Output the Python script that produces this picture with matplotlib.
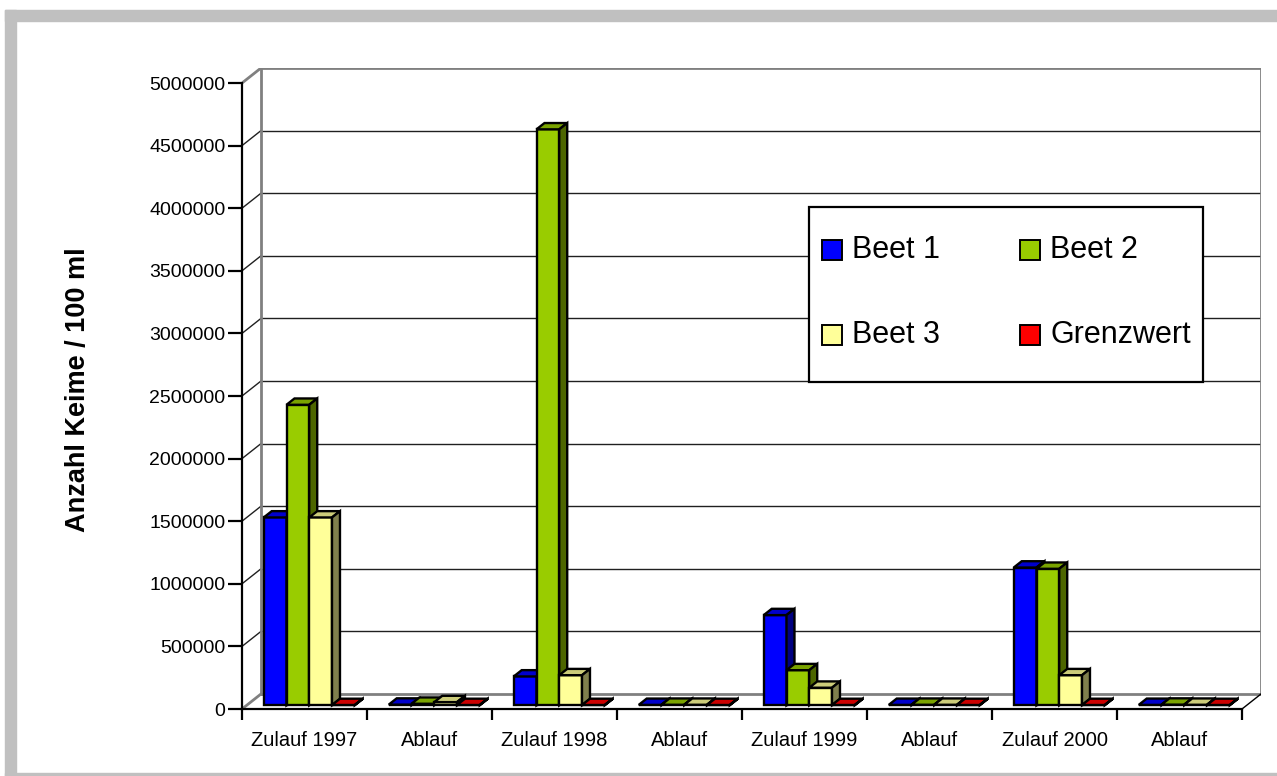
import matplotlib
matplotlib.use('Agg')
import matplotlib.pyplot as plt
from matplotlib.patches import Rectangle, Polygon
from matplotlib.colors import to_rgb

# Daten (Anzahl Keime / 100 ml)
kategorien = ['Zulauf 1997', 'Ablauf', 'Zulauf 1998', 'Ablauf',
              'Zulauf 1999', 'Ablauf', 'Zulauf 2000', 'Ablauf']
serien = ['Beet 1', 'Beet 2', 'Beet 3', 'Grenzwert']
beet1 = [1500000, 5000, 230000, 3000, 720000, 3000, 1100000, 3000]
beet2 = [2400000, 12000, 4600000, 4000, 280000, 4000, 1090000, 5000]
beet3 = [1500000, 25000, 240000, 4000, 140000, 4000, 240000, 4000]
grenzwert = [2000, 2000, 2000, 2000, 2000, 2000, 2000, 2000]
farben = ['#0000FF', '#99CC00', '#FFFF99', '#FF0000']
y_ticks = list(range(0, 5000001, 500000))

W, H = 1277, 776
fig = plt.figure(figsize=(W / 100, H / 100), dpi=100)
plt.rcParams['font.family'] = ['Liberation Sans', 'DejaVu Sans']

def fx(px):
    return px / W

def fy(py):
    return 1 - py / H

# grauer Rahmen
for (x, y, w, h) in [(5, 10, 11, 766), (5, 10, 1272, 11), (5, 773, 1272, 3)]:
    fig.patches.append(Rectangle((fx(x), fy(y + h)), w / W, h / H,
                                 transform=fig.transFigure, color='#C0C0C0', zorder=0))

DX = 19 / 125      # Tiefe in Kategorie-Einheiten
DY = 120000        # Tiefe in Werte-Einheiten
ymax = 5000000

ax = fig.add_axes([fx(242), fy(709), (1261 - 242) / W, (709 - 68) / H])
ax.set_xlim(0, 8 + DX)
ax.set_ylim(0, ymax + DY)
ax.patch.set_visible(False)

n = len(kategorien)
# Rueckwand, Gitter
for v in y_ticks:
    grau = v in (0, ymax)
    c = '#808080' if grau else '#202020'
    lw = 2 if grau else 1
    ax.plot([DX, n + DX], [v + DY, v + DY], color=c, lw=lw, zorder=1)
    ax.plot([0, DX], [v, v + DY], color=c, lw=lw, zorder=1)
ax.plot([DX, DX], [DY, ymax + DY], color='#808080', lw=2, zorder=1)
ax.plot([n + DX, n + DX], [DY, ymax + DY], color='#808080', lw=2, zorder=1)
ax.plot([n, n + DX], [0, DY], color='black', lw=1, zorder=1)

# 3D-Saeulen
def dunkler(c, f):
    r, g, b = to_rgb(c)
    return (r * f, g * f, b * f)

bw = 0.182
d0, d1 = 0.25, 0.67
tx, ty = (d1 - d0) * DX, (d1 - d0) * DY
werte = [beet1, beet2, beet3, grenzwert]
z = 3
for i in range(n):
    start = i + (1 - 4 * bw) / 2 + d0 * DX
    yb = d0 * DY
    for j in range(4):
        v = werte[j][i]
        x = start + j * bw
        col = farben[j]
        ax.add_patch(Rectangle((x, yb), bw, v, facecolor=col, edgecolor='black',
                               lw=1.7, zorder=z, joinstyle='miter'))
        ax.add_patch(Polygon([(x, yb + v), (x + bw, yb + v), (x + bw + tx, yb + v + ty),
                              (x + tx, yb + v + ty)], closed=True,
                             facecolor=dunkler(col, 0.8), edgecolor='black', lw=1.7, zorder=z + 1))
        ax.add_patch(Polygon([(x + bw, yb), (x + bw + tx, yb + ty), (x + bw + tx, yb + v + ty),
                              (x + bw, yb + v)], closed=True,
                             facecolor=dunkler(col, 0.5), edgecolor='black', lw=1.7, zorder=z + 2))
        z += 3

# Achsen
for s in ['top', 'right']:
    ax.spines[s].set_visible(False)
ax.spines['left'].set_bounds(0, ymax)
ax.spines['bottom'].set_bounds(0, n)
ax.spines['left'].set_linewidth(1.6)
ax.spines['bottom'].set_linewidth(1.6)
ax.spines['left'].set_zorder(200)
ax.spines['bottom'].set_zorder(200)
ax.set_yticks(y_ticks)
ax.set_yticklabels([str(v) for v in y_ticks], fontsize=14)
ax.tick_params(axis='y', direction='out', length=10, width=1.6, pad=2)
ax.set_xticks(range(n + 1))
ax.set_xticklabels([])
ax.set_xticks([i + 0.5 for i in range(n)], minor=True)
ax.set_xticklabels(kategorien, minor=True, fontsize=14.5)
ax.tick_params(axis='x', which='major', direction='out', length=8, width=1.6)
ax.tick_params(axis='x', which='minor', length=0, pad=16)

fig.text(fx(78), fy(390), 'Anzahl Keime / 100 ml', rotation=90, ha='center', va='center',
         fontsize=19.5, fontweight='bold')

# Legende
fig.patches.append(Rectangle((fx(809), fy(382)), (1203 - 809) / W, (382 - 207) / H,
                             transform=fig.transFigure, facecolor='white', edgecolor='black',
                             lw=1.6, zorder=300))
pos = [(822, 250), (1020, 250), (822, 335), (1020, 335)]
for (px, py), name, col in zip(pos, serien, farben):
    fig.patches.append(Rectangle((fx(px), fy(py + 10)), 20 / W, 20 / H,
                                 transform=fig.transFigure, facecolor=col, edgecolor='black',
                                 lw=1.4, zorder=301))
    fig.text(fx(px + 30), fy(py), name, fontsize=22, va='center', ha='left', zorder=302)

fig.savefig('out.png', dpi=100)
